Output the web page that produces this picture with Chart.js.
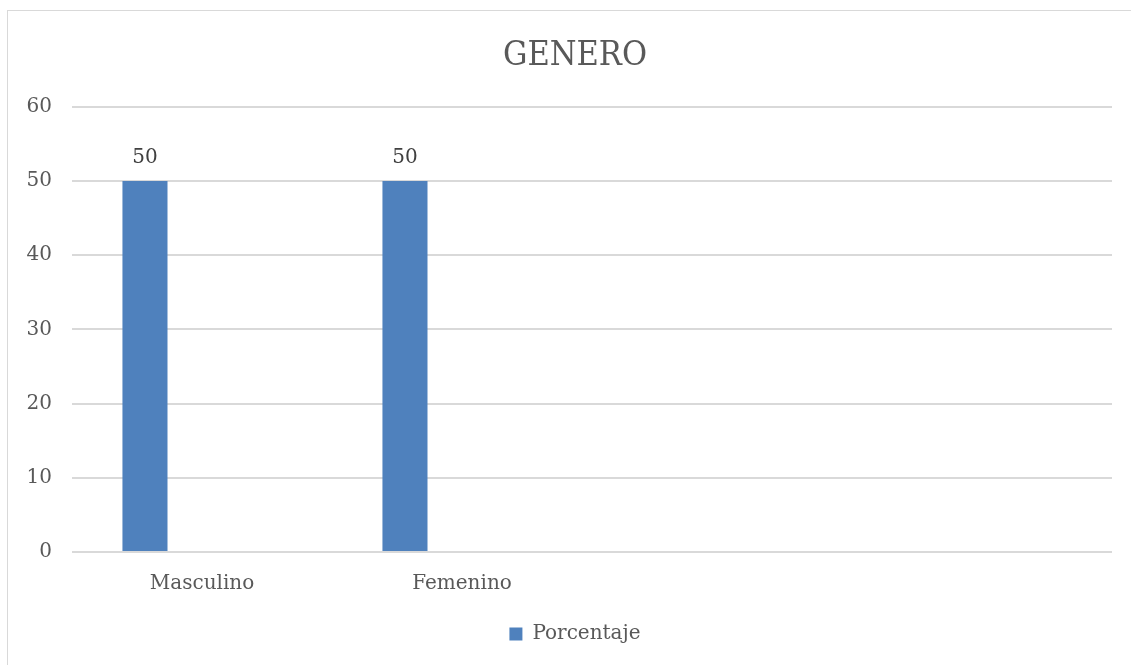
<!DOCTYPE html>
<html>
<head>
<meta charset="utf-8">
<script src="https://cdn.jsdelivr.net/npm/chart.js@4/dist/chart.umd.min.js"></script>
<style>
  html, body { margin: 0; padding: 0; background: #fff; overflow: hidden; }
  #wrap { position: relative; width: 1131px; height: 665px; overflow: hidden; }
  #frame { position: absolute; left: 7px; top: 10px; width: 1140px; height: 670px; border: 1px solid #d9d9d9; box-sizing: border-box; }
  canvas { position: absolute; left: 0; top: 0; }
</style>
</head>
<body>
<div id="wrap">
  <div id="frame"></div>
  <canvas id="canvas" width="1150" height="665"></canvas>
</div>
<script>
// datos de la grafica
var categorias = ["Masculino", "Femenino", "", ""];
var porcentaje = [50, 50, null, null];
var vacio = [null, null, null, null];
var ticksY = [0, 10, 20, 30, 40, 50, 60];

var serif = "'DejaVu Serif', serif";
var gris = "#595959";

// etiquetas de valor encima de cada barra
var etiquetas = {
    id: "etiquetas",
    afterDatasetsDraw: function(chart){
        var ctx = chart.ctx;
        var meta = chart.getDatasetMeta(0);
        ctx.save();
        ctx.font = "20px " + serif;
        ctx.fillStyle = "#404040";
        ctx.textAlign = "center";
        ctx.textBaseline = "bottom";
        meta.data.forEach(function(bar, i){
            var v = porcentaje[i];
            if(v === null) return;
            ctx.fillText(String(v), bar.x, bar.y - 13);
        });
        ctx.restore();
    }
};

var ctx = document.getElementById("canvas").getContext("2d");
var chart = new Chart(ctx, {
    type: "bar",
    data: {
        labels: categorias,
        datasets: [
            { label: "Porcentaje", data: porcentaje, backgroundColor: "#4f81bd",
              barPercentage: 0.79, categoryPercentage: 0.658 },
            { label: "", data: vacio, barPercentage: 0.79, categoryPercentage: 0.658 },
            { label: "", data: vacio, barPercentage: 0.79, categoryPercentage: 0.658 }
        ]
    },
    options: {
        responsive: false,
        animation: false,
        layout: { padding: { left: 0, right: 0, top: 0, bottom: 11 } },
        plugins: {
            title: {
                display: true,
                text: "GENERO",
                color: gris,
                font: { family: "'DejaVu Serif Condensed', " + serif, size: 34, weight: "normal" },
                padding: { top: 36, bottom: 30 }
            },
            legend: {
                position: "bottom",
                labels: {
                    color: gris,
                    font: { family: serif, size: 20 },
                    boxWidth: 13, boxHeight: 13,
                    padding: 10,
                    filter: function(item){ return item.text !== ""; }
                }
            },
            tooltip: { enabled: false }
        },
        scales: {
            x: {
                grid: { display: false, drawTicks: false },
                border: { display: false },
                ticks: { color: gris, font: { family: serif, size: 20 }, padding: 20, maxRotation: 0 },
                afterFit: function(s){ s.height = 62; }
            },
            y: {
                min: 0, max: 60,
                afterBuildTicks: function(s){ s.ticks = ticksY.map(function(v){ return { value: v }; }); },
                grid: { color: "#d9d9d9", lineWidth: 2, drawTicks: false },
                border: { display: false },
                ticks: { color: gris, font: { family: serif, size: 20 }, padding: 20 },
                afterFit: function(s){ s.width = 72; }
            },
            // margen derecho vacio
            margen: {
                position: "right",
                min: 0, max: 60,
                grid: { display: false, drawTicks: false },
                border: { display: false },
                ticks: { display: false },
                afterFit: function(s){ s.width = 38; }
            }
        }
    },
    plugins: [etiquetas]
});
</script>
</body>
</html>
